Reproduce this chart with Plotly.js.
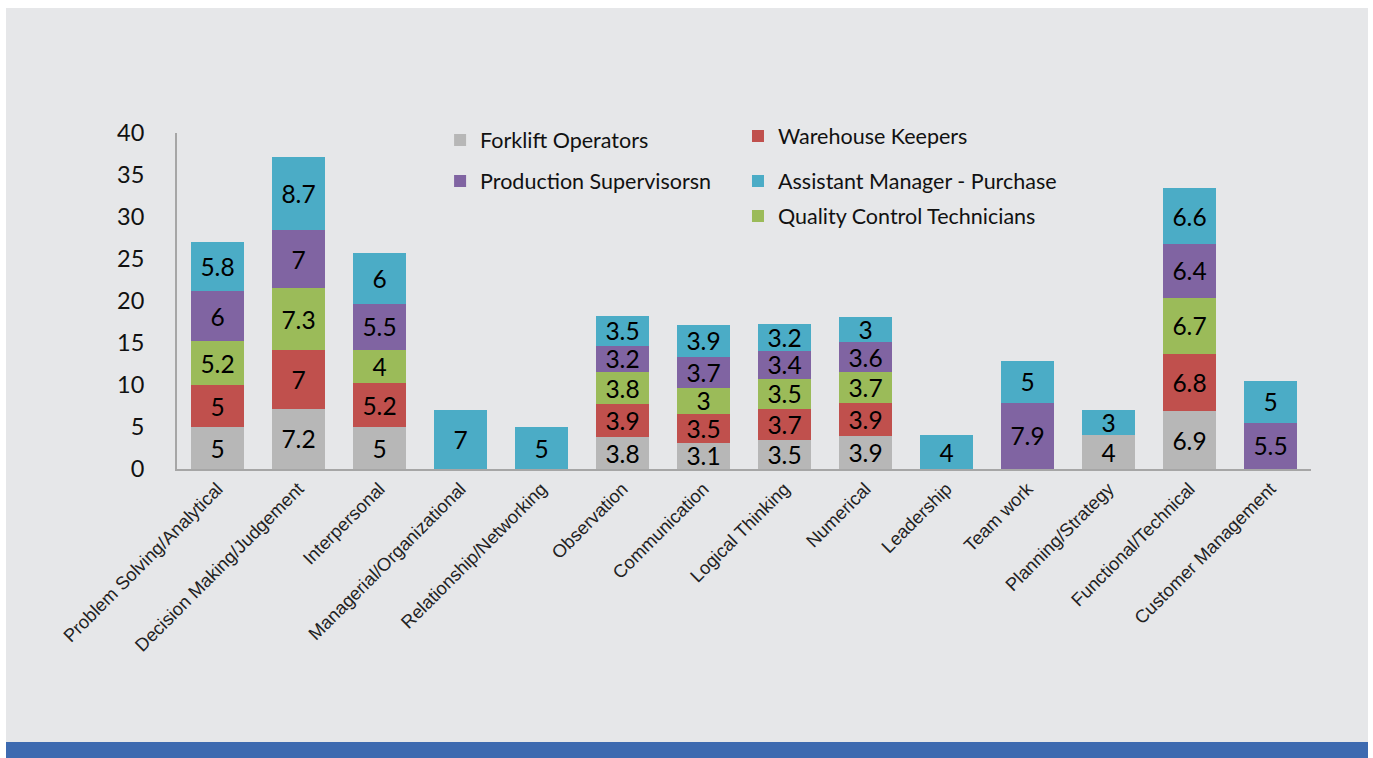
<!DOCTYPE html>
<html>
<head>
<meta charset="utf-8">
<script src="https://cdn.plot.ly/plotly-3.0.1.min.js"></script>
<style>
  html, body { margin:0; padding:0; background:#ffffff; width:1373px; height:758px; overflow:hidden; }
  #panel { position:absolute; left:6px; top:8px; width:1362px; height:734px; background:#e6e7e9; }
  #band { position:absolute; left:6px; top:742px; width:1362px; height:16px; background:#3d6ab0; }
  #chart { position:absolute; left:6px; top:8px; width:1362px; height:734px; }
</style>
</head>
<body>
<div id="panel"></div>
<div id="band"></div>
<div id="chart"></div>
<script>
const categories = [
  "Problem Solving/Analytical", "Decision Making/Judgement", "Interpersonal",
  "Managerial/Organizational", "Relationship/Networking", "Observation",
  "Communication", "Logical Thinking", "Numerical", "Leadership",
  "Team work", "Planning/Strategy", "Functional/Technical", "Customer Management"
];
const forkliftOperators       = [5,   7.2, 5,   null, null, 3.8, 3.1, 3.5, 3.9, null, null, 4,    6.9, null];
const warehouseKeepers        = [5,   7,   5.2, null, null, 3.9, 3.5, 3.7, 3.9, null, null, null, 6.8, null];
const qualityControlTechs     = [5.2, 7.3, 4,   null, null, 3.8, 3,   3.5, 3.7, null, null, null, 6.7, null];
const productionSupervisors   = [6,   7,   5.5, null, null, 3.2, 3.7, 3.4, 3.6, null, 7.9, null, 6.4, 5.5];
const assistantManagerPurch   = [5.8, 8.7, 6,   7,    5,    3.5, 3.9, 3.2, 3,   4,    5,   3,    6.6, 5];
const yTicks = [0, 5, 10, 15, 20, 25, 30, 35, 40];

const numFont = {family: "Lato, 'Open Sans', sans-serif", size: 24.5, color: "#000000"};

function mk(name, y, color, legend) {
  return {
    type: "bar", name: name, x: categories, y: y,
    marker: {color: color, line: {width: 0}},
    text: y.map(v => v === null ? "" : String(v)),
    texttemplate: "%{text}",
    textposition: "inside", insidetextanchor: "middle", textangle: 0,
    constraintext: "none",
    textfont: numFont, insidetextfont: numFont,
    hoverinfo: "skip",
    legend: legend
  };
}

const data = [
  mk("Forklift Operators", forkliftOperators, "#b7b7b7", "legend"),
  mk("Warehouse Keepers", warehouseKeepers, "#c0504d", "legend2"),
  mk("Quality Control Technicians", qualityControlTechs, "#9bbb59", "legend5"),
  mk("Production Supervisorsn", productionSupervisors, "#8064a2", "legend3"),
  mk("Assistant Manager - Purchase", assistantManagerPurch, "#4bacc6", "legend4")
];

const legFont = {family: "Lato, 'Open Sans', sans-serif", size: 21.5, color: "#111111"};
function leg(x, y) {
  return {x: x, y: y, xanchor: "left", yanchor: "middle", bgcolor: "rgba(0,0,0,0)",
          font: legFont, borderwidth: 0, itemwidth: 30, tracegroupgap: 0};
}

const layout = {
  width: 1362, height: 734,
  paper_bgcolor: "rgba(0,0,0,0)", plot_bgcolor: "rgba(0,0,0,0)",
  margin: {l: 171, r: 57, t: 125, b: 273},
  barmode: "stack", bargap: 0.345,
  uniformtext: {mode: "show", minsize: 24.5},
  showlegend: true,
  legend: leg(0.232, 0.979),
  legend2: leg(0.4947, 0.991),
  legend3: leg(0.232, 0.857),
  legend4: leg(0.4947, 0.857),
  legend5: leg(0.4947, 0.753),
  xaxis: {
    type: "category", tickangle: -45, showgrid: false, zeroline: false,
    showline: true, linecolor: "#a6a6a6", linewidth: 2, ticks: "",
    tickfont: {family: "'Liberation Sans', Arial, sans-serif", size: 18.3, color: "#222222"}
  },
  yaxis: {
    range: [0, 40], tickvals: yTicks, ticktext: yTicks.map(String),
    showgrid: false, zeroline: false, showline: true, linecolor: "#a6a6a6", linewidth: 2,
    ticks: "", ticklabelstandoff: 26,
    tickfont: {family: "Lato, 'Open Sans', sans-serif", size: 23.5, color: "#111111"}
  }
};

Plotly.newPlot("chart", data, layout, {displayModeBar: false, staticPlot: true});
</script>
</body>
</html>
